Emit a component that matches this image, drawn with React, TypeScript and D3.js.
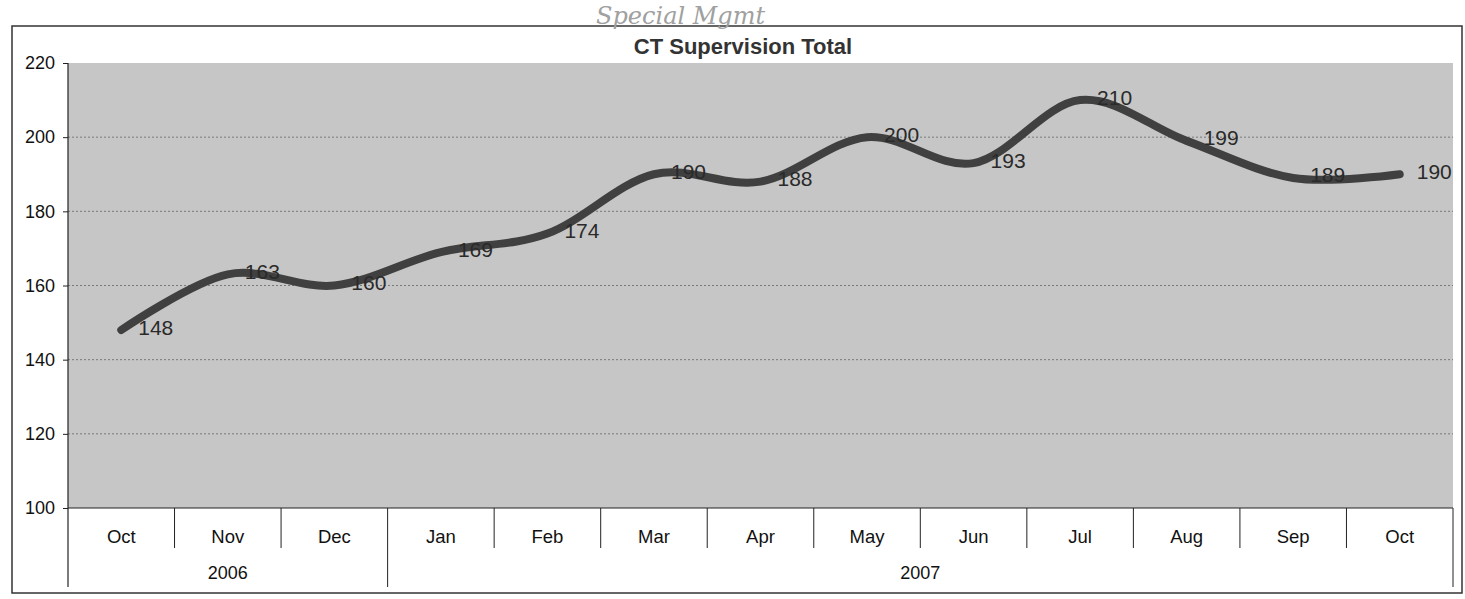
import React, { useEffect, useRef } from 'react';
import * as d3 from 'd3';

// chart values
const months = ['Oct', 'Nov', 'Dec', 'Jan', 'Feb', 'Mar', 'Apr', 'May', 'Jun', 'Jul', 'Aug', 'Sep', 'Oct'];
const totals = [148, 163, 160, 169, 174, 190, 188, 200, 193, 210, 199, 189, 190];
const yearLabels = ['2006', '2007'];
const yearSpans = [3, 10];
const yTicks = [100, 120, 140, 160, 180, 200, 220];

const title = 'CT Supervision Total';
const note = 'Special Mgmt';

const W = 1465;
const H = 599;

const App = () => {
  const svgRef = useRef<SVGSVGElement>(null);

  useEffect(() => {
    const margin = { top: 63, right: 12, bottom: 91, left: 68 };
    const width = W - margin.left - margin.right;
    const height = H - margin.top - margin.bottom;

    d3.select(svgRef.current).selectAll('*').remove();

    const root = d3.select(svgRef.current)
      .attr('width', W)
      .attr('height', H)
      .style('font-family', '"Liberation Sans", Arial, sans-serif');

    // outer frame
    root.append('rect')
      .attr('x', 12).attr('y', 26)
      .attr('width', 1450).attr('height', 567)
      .attr('fill', 'white')
      .attr('stroke', '#333')
      .attr('stroke-width', 1.5);

    // handwritten note
    root.append('text')
      .attr('x', 596).attr('y', 24)
      .attr('font-family', '"DejaVu Serif", serif')
      .attr('font-style', 'italic')
      .attr('font-size', 24)
      .attr('fill', '#a0a0a0')
      .attr('font-weight', 200)
      .text(note);

    root.append('text')
      .attr('x', 743).attr('y', 54)
      .attr('text-anchor', 'middle')
      .attr('font-size', 22)
      .attr('font-weight', 'bold')
      .attr('fill', '#333')
      .text(title);

    const svg = root.append('g')
      .attr('transform', `translate(${margin.left},${margin.top})`);

    const keys = months.map((m, i) => `${m}-${i}`);

    const x = d3.scaleBand()
      .domain(keys)
      .range([0, width]);

    const y = d3.scaleLinear()
      .domain([100, 220])
      .range([height, 0]);

    // plot background
    svg.append('rect')
      .attr('x', 0).attr('y', 0)
      .attr('width', width).attr('height', height)
      .attr('fill', '#c6c6c6');

    // dotted gridlines
    svg.append('g')
      .selectAll('line')
      .data(yTicks.filter(t => t > 100 && t < 220))
      .enter()
      .append('line')
      .attr('x1', 0).attr('x2', width)
      .attr('y1', d => y(d)).attr('y2', d => y(d))
      .attr('stroke', '#666')
      .attr('stroke-width', 0.8)
      .attr('stroke-dasharray', '2,2');

    // y axis
    const yAxis = svg.append('g')
      .call(d3.axisLeft(y).tickValues(yTicks).tickSize(5).tickPadding(8));
    yAxis.select('.domain').remove();
    yAxis.selectAll('line').attr('stroke', '#222');
    yAxis.selectAll('text')
      .attr('font-size', 18)
      .attr('fill', '#111')
      .attr('font-family', '"Liberation Sans", Arial, sans-serif');

    svg.append('line')
      .attr('x1', 0).attr('x2', 0)
      .attr('y1', 0).attr('y2', height + 79)
      .attr('stroke', '#222').attr('stroke-width', 1.2);

    // category axis
    svg.append('line')
      .attr('x1', 0).attr('x2', width)
      .attr('y1', height).attr('y2', height)
      .attr('stroke', '#222').attr('stroke-width', 1.2);

    const bounds = d3.range(1, months.length + 1).map(i => i === months.length ? width : x(keys[i]) as number);
    const yearEdges = d3.cumsum(yearSpans).map(s => s === months.length ? width : x(keys[s]) as number);

    svg.append('g')
      .selectAll('line')
      .data(bounds)
      .enter()
      .append('line')
      .attr('x1', d => d).attr('x2', d => d)
      .attr('y1', height)
      .attr('y2', d => (yearEdges.includes(d) ? height + 79 : height + 40))
      .attr('stroke', '#222').attr('stroke-width', 1);

    svg.append('g')
      .selectAll('text')
      .data(keys)
      .enter()
      .append('text')
      .attr('x', d => (x(d) as number) + x.bandwidth() / 2)
      .attr('y', height + 35)
      .attr('text-anchor', 'middle')
      .attr('font-size', 18.5)
      .attr('fill', '#111')
      .text((d, i) => months[i]);

    const starts = [0, ...d3.cumsum(yearSpans).slice(0, -1)];
    svg.append('g')
      .selectAll('text')
      .data(yearLabels)
      .enter()
      .append('text')
      .attr('x', (d, i) => {
        const a = x(keys[starts[i]]) as number;
        const b = yearEdges[i];
        return (a + b) / 2;
      })
      .attr('y', height + 71)
      .attr('text-anchor', 'middle')
      .attr('font-size', 18)
      .attr('fill', '#111')
      .text(d => d);

    // smoothed line
    const line = d3.line<number>()
      .x((d, i) => (x(keys[i]) as number) + x.bandwidth() / 2)
      .y(d => y(d))
      .curve(d3.curveCardinal.tension(0));

    svg.append('path')
      .datum(totals)
      .attr('d', line)
      .attr('fill', 'none')
      .attr('stroke', '#404040')
      .attr('stroke-width', 8)
      .attr('stroke-linecap', 'round');

    // data labels
    svg.append('g')
      .selectAll('text')
      .data(totals)
      .enter()
      .append('text')
      .attr('x', (d, i) => (x(keys[i]) as number) + x.bandwidth() / 2 + 17)
      .attr('y', d => y(d) - 3)
      .attr('dominant-baseline', 'central')
      .attr('font-size', 21)
      .attr('fill', '#2a2a2a')
      .text(d => d);
  }, []);

  return <svg ref={svgRef} style={{ position: 'absolute', left: 0, top: 0 }}></svg>;
};

export default App;
